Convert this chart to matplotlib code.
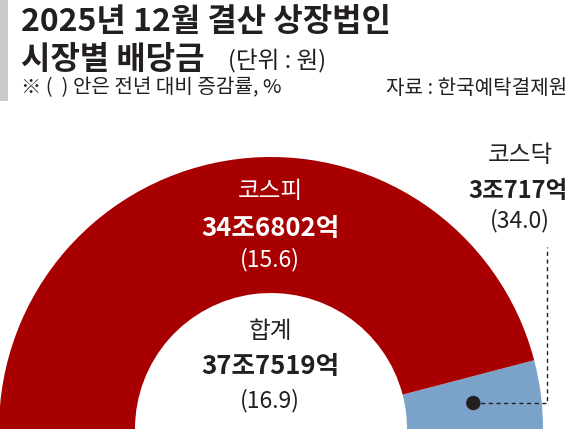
import numpy as np
import matplotlib
matplotlib.use("Agg")
import matplotlib.pyplot as plt
from matplotlib.patches import Rectangle, Circle

plt.rcParams['font.family'] = ['Noto Sans CJK KR', 'DejaVu Sans']

# Dividends by market (unit: 억 원) and year-on-year change (%)
markets = ["코스닥", "코스피"]
dividends = [30717, 346802]          # 3조717억, 34조6802억
changes = [34.0, 15.6]
total_label = "합계"
total_change = 16.9
value_labels = ["3조717억", "34조6802억"]
total_value_label = "37조7519억"

colors = ["#7ba3c9", "#a80000"]
dark = "#231f20"

W, H = 570, 429
fig = plt.figure(figsize=(W / 100, H / 100), dpi=100)
ax = fig.add_axes([0, 0, 1, 1])

# Half donut: the upper half carries the data, the lower half is hidden
cx, cy = 271, 0
R_out, ring = 272, 136
total = sum(dividends)
wedges, _ = ax.pie(dividends + [total], colors=colors + ["none"],
                   startangle=0, counterclock=True, center=(cx, cy),
                   radius=R_out, wedgeprops=dict(width=ring, linewidth=0))
ax.set_xlim(0, W)
ax.set_ylim(0, H)
ax.set_aspect("equal")
ax.axis("off")

def py(y):
    return H - y

# Marker in the middle of the KOSDAQ segment with a dashed leader line
mid_ang = np.deg2rad(wedges[0].theta1 + (wedges[0].theta2 - wedges[0].theta1) / 2)
r_mid = R_out - ring / 2
dx, dy = cx + r_mid * np.cos(mid_ang), cy + r_mid * np.sin(mid_ang)
ax.add_patch(Circle((dx, dy), 6.5, color=dark, zorder=5))
lx = 547
ax.plot([dx, lx, lx], [dy, dy, py(247)], color=dark, lw=1.0,
        ls=(0, (3, 2.5)), zorder=4)

# Header
ax.add_patch(Rectangle((0, py(101)), 8, 101, color="#c9c9cc", lw=0))
ax.text(21, py(22), "2025년 12월 결산 상장법인", fontsize=23, fontweight="black",
        color=dark, va="center", ha="left")
ax.text(21, py(60), "시장별 배당금", fontsize=23, fontweight="black",
        color=dark, va="center", ha="left")
ax.text(228, py(61), "(단위 : 원)", fontsize=17, color=dark,
        va="center", ha="left")
ax.text(21, py(88), "※ (  ) 안은 전년 대비 증감률, %", fontsize=14.5,
        color=dark, va="center", ha="left")
ax.text(567, py(88), "자료 : 한국예탁결제원", fontsize=14.5, color=dark,
        va="center", ha="right")

# KOSPI label inside the red arc
ax.text(270, py(191), markets[1], fontsize=17, color="white", ha="center", va="center")
ax.text(270, py(228), value_labels[1], fontsize=18.5, fontweight="bold",
        color="white", ha="center", va="center")
ax.text(270, py(260), f"({changes[1]:.1f})", fontsize=16.5, color="white",
        ha="center", va="center")

# Total in the hollow centre
ax.text(270, py(332), total_label, fontsize=17, color=dark, ha="center", va="center")
ax.text(270, py(367), total_value_label, fontsize=18.5, fontweight="bold",
        color=dark, ha="center", va="center")
ax.text(270, py(401), f"({total_change:.1f})", fontsize=16.5, color=dark,
        ha="center", va="center")

# KOSDAQ label outside the arc
ax.text(520, py(155), markets[0], fontsize=17, color=dark, ha="center", va="center")
ax.text(568, py(191), value_labels[0], fontsize=17, fontweight="bold",
        color=dark, ha="right", va="center")
ax.text(520, py(221), f"({changes[0]:.1f})", fontsize=16.5, color=dark,
        ha="center", va="center")

fig.savefig("out.png", dpi=100)
